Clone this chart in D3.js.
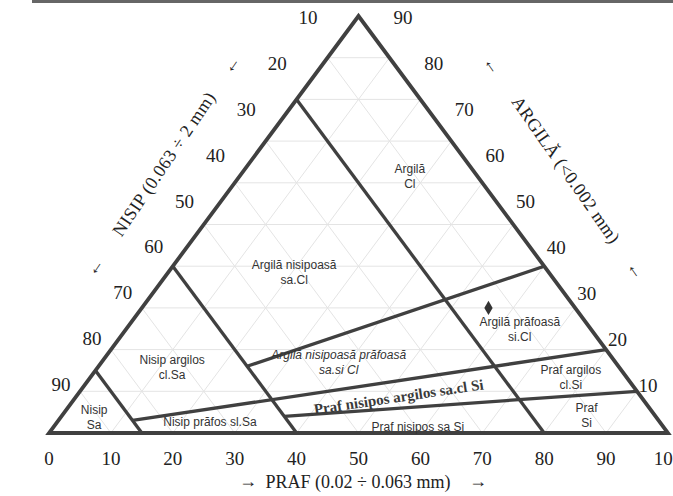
<!DOCTYPE html>
<html>
<head>
<meta charset="utf-8">
<script src="https://cdn.jsdelivr.net/npm/d3@7"></script>
<style>
  body { margin: 0; background: #fff; }
  .tick-label { font-family: "Liberation Serif", "Times New Roman", serif; font-size: 19px; fill: #222; }
  .axis-title { font-family: "Liberation Serif", "Times New Roman", serif; font-size: 18px; fill: #222; }
  .region { font-family: "Liberation Sans", Arial, sans-serif; font-size: 12px; fill: #333; }
</style>
</head>
<body>
<div id="chart"></div>
<script>
// Set up SVG
var svgWidth = 673;
var svgHeight = 496;

// ternary values (percent)
var percentTicks = [0, 10, 20, 30, 40, 50, 60, 70, 80, 90, 100];
var sideTicks = [10, 20, 30, 40, 50, 60, 70, 80, 90];

// class boundaries: [clay1, silt1, clay2, silt2]
var boundaries = [
    [15, 0, 0, 15],    // nisip limit (sand 85)
    [40, 0, 0, 40],    // sand 60
    [80, 0, 0, 80],    // sand 20
    [16, 24, 40, 60],  // clay = 40% of fines
    [3, 12, 20, 80],   // clay = 20% of fines
    [4, 36, 10, 90]    // clay = 10% of fines
];

// class names, anchored at [clay, silt]
var classNames = [
    ["Argilă", "Cl"],
    ["Argilă nisipoasă", "sa.Cl"],
    ["Argilă prăfoasă", "si.Cl"],
    ["Argilă nisipoasă prăfoasă", "sa.si Cl"],
    ["Nisip argilos", "cl.Sa"],
    ["Nisip", "Sa"],
    ["Nisip prăfos sl.Sa"],
    ["Praf nisipos argilos sa.cl Si"],
    ["Praf nisipos sa Si"],
    ["Praf argilos", "cl.Si"],
    ["Praf", "Si"]
];
var classClay = [61.4, 38.6, 24.9, 16.8, 15.8, 3.8, 2.6, 8.4, 1.4, 13.4, 4.1];
var classSilt = [27.6, 20.3, 63.6, 38.4, 12.0, 5.4, 24.7, 52.3, 58.9, 77.6, 84.8];

// sample point (clay, silt)
var sampleClay = [30];
var sampleSilt = [56];

var svg = d3.select("#chart").append("svg").attr("width", svgWidth).attr("height", svgHeight);

// scan border at the top
svg.append("rect").attr("x", 32).attr("y", 0).attr("width", 641).attr("height", 3).attr("fill", "#666");

var xScale = d3.scaleLinear().domain([0, 100]).range([49, 668]);
var yScale = d3.scaleLinear().domain([0, 100]).range([433, 16]);

function pt(clay, silt) {
    return [xScale(silt + clay / 2), yScale(clay)];
}

var line = d3.line();

// faint grid
var gridGroup = svg.append("g").attr("stroke", "#e4e4e4").attr("stroke-width", 1).attr("fill", "none");
sideTicks.forEach(function(v) {
    gridGroup.append("path").attr("d", line([pt(v, 0), pt(v, 100 - v)]));       // clay const
    gridGroup.append("path").attr("d", line([pt(0, v), pt(100 - v, v)]));       // silt const
    gridGroup.append("path").attr("d", line([pt(100 - v, 0), pt(0, 100 - v)])); // sand const
});

// class boundaries
svg.append("g").selectAll("path")
    .data(boundaries)
    .enter()
    .append("path")
    .attr("d", d => line([pt(d[0], d[1]), pt(d[2], d[3])]))
    .attr("stroke", "#404040")
    .attr("stroke-width", 3.3)
    .attr("fill", "none");

// outer triangle
svg.append("path")
    .attr("d", line([pt(0, 0), pt(0, 100), pt(100, 0)]) + "Z")
    .attr("stroke", "#404040")
    .attr("stroke-width", 3.8)
    .attr("stroke-linejoin", "miter")
    .attr("fill", "none");

// bottom axis (silt)
svg.append("g").selectAll("text")
    .data(percentTicks)
    .enter()
    .append("text")
    .attr("class", "tick-label")
    .attr("x", d => xScale(d))
    .attr("y", 465)
    .attr("text-anchor", "middle")
    .text(d => d);

// left labels (sand), right labels (clay)
var leftX = d3.scaleLinear().domain([10, 90]).range([308, 61]);
var leftY = d3.scaleLinear().domain([10, 90]).range([17, 384]);
svg.append("g").selectAll("text")
    .data(sideTicks)
    .enter()
    .append("text")
    .attr("class", "tick-label")
    .attr("x", d => leftX(d))
    .attr("y", d => leftY(d) + 7)
    .attr("text-anchor", "middle")
    .text(d => d);

var rightX = d3.scaleLinear().domain([90, 10]).range([403, 648]);
var rightY = d3.scaleLinear().domain([90, 10]).range([17, 385]);
svg.append("g").selectAll("text")
    .data(sideTicks)
    .enter()
    .append("text")
    .attr("class", "tick-label")
    .attr("x", d => rightX(d))
    .attr("y", d => rightY(d) + 7)
    .attr("text-anchor", "middle")
    .text(d => d);

// axis titles
svg.append("text").attr("class", "axis-title")
    .attr("x", 358).attr("y", 488).attr("text-anchor", "middle")
    .text("PRAF (0.02 ÷ 0.063 mm)");
svg.append("text").attr("class", "axis-title").attr("x", 248).attr("y", 487).attr("text-anchor", "middle").text("→");
svg.append("text").attr("class", "axis-title").attr("x", 478).attr("y", 487).attr("text-anchor", "middle").text("→");

var leftTitle = svg.append("g").attr("transform", "translate(164,164) rotate(-56)");
leftTitle.append("text").attr("class", "axis-title").attr("y", 6).attr("text-anchor", "middle")
    .attr("letter-spacing", 0.4).text("NISIP (0.063 ÷ 2 mm)");
leftTitle.append("text").attr("class", "axis-title").attr("x", -124).attr("y", 6).attr("text-anchor", "middle").text("←");
leftTitle.append("text").attr("class", "axis-title").attr("x", 120).attr("y", 6).attr("text-anchor", "middle").text("←");

var rightTitle = svg.append("g").attr("transform", "translate(566,170) rotate(55)");
rightTitle.append("text").attr("class", "axis-title").attr("y", 6).attr("text-anchor", "middle")
    .attr("letter-spacing", 0.4).text("ARGILĂ (<0.002 mm)");
rightTitle.append("text").attr("class", "axis-title").attr("x", -128).attr("y", 6).attr("text-anchor", "middle").text("←");
rightTitle.append("text").attr("class", "axis-title").attr("x", 122).attr("y", 6).attr("text-anchor", "middle").text("←");

// class labels
var labelGroup = svg.append("g");
classNames.forEach(function(lines, i) {
    var p = pt(classClay[i], classSilt[i]);
    var t = labelGroup.append("text")
        .attr("class", "region")
        .attr("text-anchor", "middle")
        .attr("transform", `translate(${p[0]}, ${p[1]})` + (i === 7 ? " rotate(-8.5)" : ""));
    if (i === 7) t.style("font-family", "'Liberation Serif', serif").style("font-size", "15px").style("font-weight", "bold").style("fill", "#3a3a3a");
    if (i === 3) t.style("font-style", "italic");
    var lh = 15;
    lines.forEach(function(s, j) {
        t.append("tspan")
            .attr("x", 0)
            .attr("y", (j - (lines.length - 1) / 2) * lh + 4)
            .text(s);
    });
});

// sample point
svg.append("g").selectAll("path")
    .data(sampleClay)
    .enter()
    .append("path")
    .attr("d", d3.symbol().type(d3.symbolDiamond).size(60))
    .attr("transform", (d, i) => {
        var p = pt(d, sampleSilt[i]);
        return `translate(${p[0]}, ${p[1]})`;
    })
    .attr("fill", "#333");
</script>
</body>
</html>
